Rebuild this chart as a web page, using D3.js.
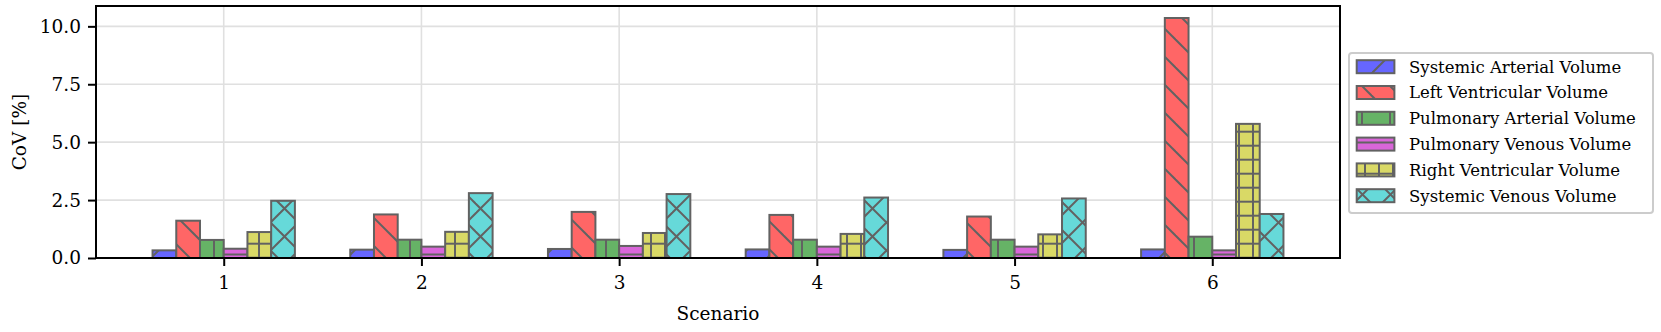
<!DOCTYPE html>
<html>
<head>
<meta charset="utf-8">
<script src="https://cdn.jsdelivr.net/npm/d3@7"></script>
<style>
  body { margin: 0; background: #fff; }
  text { font-family: "DejaVu Serif", serif; fill: #000; }
</style>
</head>
<body>
<div id="chart"></div>
<script>
var svgWidth = 1661;
var svgHeight = 332;

var margin = { top: 6, right: 321, bottom: 74, left: 96 };
var width = svgWidth - margin.left - margin.right;
var height = svgHeight - margin.top - margin.bottom;

// data
var scenarios = ["1", "2", "3", "4", "5", "6"];
var seriesNames = ["Systemic Arterial Volume", "Left Ventricular Volume", "Pulmonary Arterial Volume",
  "Pulmonary Venous Volume", "Right Ventricular Volume", "Systemic Venous Volume"];
var systemicArterial = [0.33, 0.36, 0.39, 0.37, 0.35, 0.37];
var leftVentricular = [1.61, 1.88, 1.99, 1.86, 1.79, 10.36];
var pulmonaryArterial = [0.78, 0.79, 0.79, 0.79, 0.79, 0.92];
var pulmonaryVenous = [0.40, 0.49, 0.52, 0.49, 0.49, 0.33];
var rightVentricular = [1.12, 1.13, 1.08, 1.04, 1.02, 5.79];
var systemicVenous = [2.47, 2.80, 2.76, 2.61, 2.57, 1.90];
var yTicks = [0, 2.5, 5, 7.5, 10];

var seriesValues = [systemicArterial, leftVentricular, pulmonaryArterial, pulmonaryVenous, rightVentricular, systemicVenous];
var colors = ["#6666ff", "#ff6666", "#66b366", "#d966d9", "#d9d966", "#66d9d9"];
var hatchIds = ["h-slash", "h-back", "h-vert", "h-horiz", "h-plus", "h-cross"];
var edgeColor = "#626262";
var barW = 0.12;

var svg = d3.select("#chart").append("svg")
  .attr("width", svgWidth)
  .attr("height", svgHeight);

// hatch patterns, aligned to the page like matplotlib hatches
var defs = svg.append("defs");
function pattern(id, size) {
  return defs.append("pattern")
    .attr("id", id)
    .attr("patternUnits", "userSpaceOnUse")
    .attr("width", size)
    .attr("height", size);
}
function hatchLine(p, x1, y1, x2, y2) {
  p.append("line")
    .attr("x1", x1).attr("y1", y1).attr("x2", x2).attr("y2", y2)
    .attr("stroke", edgeColor)
    .attr("stroke-width", 2);
}
var P = 28;
var pSlash = pattern("h-slash", P);
[17 - P, 17, 17 + P].forEach(c => hatchLine(pSlash, c + 40, -40, c - 40, 40));
var pBack = pattern("h-back", P);
[16 - P, 16, 16 + P].forEach(c => hatchLine(pBack, c - 40, -40, c + 40, 40));
var pVert = pattern("h-vert", P);
hatchLine(pVert, 18, -1, 18, P + 1);
var pHoriz = pattern("h-horiz", P);
hatchLine(pHoriz, -1, 2.5, P + 1, 2.5);
var pPlus = pattern("h-plus", 14);
hatchLine(pPlus, 7, -1, 7, 15);
hatchLine(pPlus, -1, 5.7, 15, 5.7);
var pCross = pattern("h-cross", P);
[17 - P, 17, 17 + P].forEach(c => hatchLine(pCross, c + 40, -40, c - 40, 40));
[20 - P, 20, 20 + P].forEach(c => hatchLine(pCross, c - 40, -40, c + 40, 40));

// the patterns are in page coordinates, so bars go straight into the svg
var chartGroup = svg.append("g");

var pad = 3 * barW + 0.05 * (scenarios.length - 1 + 6 * barW);
var xLinearScale = d3.scaleLinear()
  .domain([-pad, scenarios.length - 1 + pad])
  .range([margin.left, margin.left + width]);

var yMax = d3.max(seriesValues, s => d3.max(s)) * 1.05;
var yLinearScale = d3.scaleLinear()
  .domain([0, yMax])
  .range([margin.top + height, margin.top]);

// grid
chartGroup.append("g")
  .selectAll("line")
  .data(yTicks)
  .enter()
  .append("line")
  .attr("x1", margin.left).attr("x2", margin.left + width)
  .attr("y1", d => yLinearScale(d)).attr("y2", d => yLinearScale(d))
  .attr("stroke", "#e0e0e0")
  .attr("stroke-width", 1.6);

chartGroup.append("g")
  .selectAll("line")
  .data(scenarios)
  .enter()
  .append("line")
  .attr("x1", (d, i) => xLinearScale(i)).attr("x2", (d, i) => xLinearScale(i))
  .attr("y1", margin.top).attr("y2", margin.top + height)
  .attr("stroke", "#e0e0e0")
  .attr("stroke-width", 1.6);

// bars: left edges at (j - 3) bar widths from the scenario tick
var bw = xLinearScale(barW) - xLinearScale(0);
var y0 = yLinearScale(0);
seriesValues.forEach(function(values, j) {
  var g = chartGroup.append("g");
  var rows = values.map((v, i) => ({ i: i, v: v }));
  var x0 = d => xLinearScale(d.i + (j - 3) * barW);
  ["fill", "hatch", "edge"].forEach(function(layer) {
    g.selectAll("rect." + layer)
      .data(rows)
      .enter()
      .append("rect")
      .attr("class", layer)
      .attr("x", x0)
      .attr("y", d => yLinearScale(d.v))
      .attr("width", bw)
      .attr("height", d => y0 - yLinearScale(d.v))
      .attr("fill", layer === "fill" ? colors[j] : layer === "hatch" ? `url(#${hatchIds[j]})` : "none")
      .attr("stroke", layer === "edge" ? edgeColor : null)
      .attr("stroke-width", layer === "edge" ? 2 : null);
  });
});

// axes
var bottomAxis = d3.axisBottom(xLinearScale)
  .tickValues(d3.range(scenarios.length))
  .tickFormat(i => scenarios[i])
  .tickSize(8)
  .tickPadding(10);
var leftAxis = d3.axisLeft(yLinearScale)
  .tickValues(yTicks)
  .tickFormat(d3.format(".1f"))
  .tickSize(8)
  .tickPadding(7);

var xAxis = chartGroup.append("g")
  .attr("transform", `translate(0, ${margin.top + height})`)
  .call(bottomAxis);
var yAxis = chartGroup.append("g")
  .attr("transform", `translate(${margin.left}, 0)`)
  .call(leftAxis);

[xAxis, yAxis].forEach(function(a) {
  a.select(".domain").remove();
  a.selectAll(".tick line").attr("stroke", "#000").attr("stroke-width", 2);
  a.selectAll(".tick text").attr("font-size", "18.5px").attr("font-family", "DejaVu Serif");
});
xAxis.selectAll(".tick text").attr("dy", "0.71em");

chartGroup.append("rect")
  .attr("x", margin.left)
  .attr("y", margin.top)
  .attr("width", width)
  .attr("height", height)
  .attr("fill", "none")
  .attr("stroke", "#000")
  .attr("stroke-width", 2);

// axis labels
chartGroup.append("text")
  .attr("x", margin.left + width / 2)
  .attr("y", 320)
  .attr("text-anchor", "middle")
  .attr("font-size", "18.5px")
  .text("Scenario");

chartGroup.append("text")
  .attr("transform", `translate(26, ${margin.top + height / 2}) rotate(-90)`)
  .attr("text-anchor", "middle")
  .attr("font-size", "18.5px")
  .text("CoV [%]");

// legend
var legend = svg.append("g");
legend.append("rect")
  .attr("x", 1349)
  .attr("y", 53)
  .attr("width", 304)
  .attr("height", 160)
  .attr("rx", 3)
  .attr("fill", "#fff")
  .attr("fill-opacity", 0.8)
  .attr("stroke", "#cccccc")
  .attr("stroke-width", 2);

var items = legend.selectAll("g.item")
  .data(seriesNames)
  .enter()
  .append("g");

items.append("rect")
  .attr("x", 1356.7).attr("y", (d, i) => 60.2 + i * 25.8)
  .attr("width", 37.7).attr("height", 13)
  .attr("fill", (d, i) => colors[i]);
items.append("rect")
  .attr("x", 1356.7).attr("y", (d, i) => 60.2 + i * 25.8)
  .attr("width", 37.7).attr("height", 13)
  .attr("fill", (d, i) => `url(#${hatchIds[i]})`)
  .attr("stroke", edgeColor)
  .attr("stroke-width", 2);
items.append("text")
  .attr("x", 1409)
  .attr("y", (d, i) => 72.5 + i * 25.8)
  .attr("font-size", "16.5px")
  .text(d => d);
</script>
</body>
</html>
